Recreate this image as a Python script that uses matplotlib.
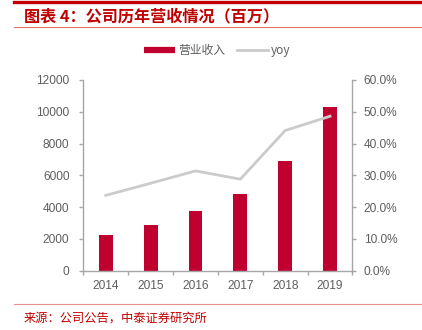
import matplotlib
matplotlib.use('Agg')
import matplotlib.pyplot as plt
from matplotlib.lines import Line2D
from matplotlib.ticker import FuncFormatter

plt.rcParams['font.family'] = ['Liberation Sans', 'Noto Sans CJK SC', 'DejaVu Sans']

years = ['2014', '2015', '2016', '2017', '2018', '2019']
revenue = [2230, 2860, 3750, 4820, 6920, 10280]
yoy = [0.237, 0.275, 0.314, 0.288, 0.441, 0.486]

bar_color = '#C0002F'
line_color = '#CBCBCB'
axis_color = '#A6A6A6'
text_color = '#5E5E5E'
red = '#C00000'

fig = plt.figure(figsize=(4.22, 3.30), dpi=100)
ax1 = fig.add_axes([0.1974, 0.1797, 0.6379, 0.5779])
ax2 = ax1.twinx()

x = range(len(years))
ax1.bar(x, revenue, width=0.31, color=bar_color, zorder=2)
ax2.plot(x, yoy, color=line_color, lw=2, solid_joinstyle='miter', zorder=3)

ax1.set_xlim(-0.5, len(years) - 0.5)
ax1.set_ylim(0, 12000)
ax1.set_yticks(range(0, 12001, 2000))
ax2.set_ylim(0, 0.6)
ax2.set_yticks([i / 10 for i in range(7)])
ax2.yaxis.set_major_formatter(FuncFormatter(lambda v, p: f'{v * 100:.1f}%'))

# boundary ticks between categories, labels centred under the bars
ax1.set_xticks([i - 0.5 for i in range(len(years) + 1)])
ax1.set_xticklabels([])
ax1.set_xticks(list(x), minor=True)
ax1.set_xticklabels(years, minor=True)
ax1.tick_params(axis='x', which='minor', length=0, pad=7, labelsize=8.6, labelcolor=text_color)
ax1.tick_params(axis='x', which='major', length=3, color=axis_color, width=1)
ax1.tick_params(axis='y', length=3, color=axis_color, width=1, pad=7,
                labelsize=8.6, labelcolor=text_color)
ax2.tick_params(axis='y', length=3, color=axis_color, width=1, pad=5,
                labelsize=8.6, labelcolor=text_color)

for ax in (ax1, ax2):
    ax.spines['top'].set_visible(False)
    for side in ('left', 'right', 'bottom'):
        ax.spines[side].set_color(axis_color)
        ax.spines[side].set_linewidth(1)
ax1.spines['right'].set_visible(False)
ax2.spines['left'].set_visible(False)
ax2.spines['bottom'].set_visible(False)

handles = [Line2D([], [], color=bar_color, lw=4.5, solid_capstyle='butt'),
           Line2D([], [], color=line_color, lw=2)]
fig.legend(handles, ['营业收入', 'yoy'], loc='center', bbox_to_anchor=(0.515, 0.848),
           ncol=2, frameon=False, handlelength=2.6, columnspacing=1.0, handletextpad=0.3,
           prop={'family': ['Noto Sans CJK SC', 'DejaVu Sans'], 'size': 8.5},
           labelcolor=text_color)

# header and footer rules
fig.add_artist(Line2D([14 / 422, 1], [1 - 1.5 / 330, 1 - 1.5 / 330], color=red, lw=2.4))
fig.add_artist(Line2D([14 / 422, 421 / 422], [1 - 27 / 330, 1 - 27 / 330], color='#E07070', lw=0.8))
fig.add_artist(Line2D([14 / 422, 421 / 422], [1 - 304.3 / 330, 1 - 304.3 / 330], color='#E89090', lw=0.8))

fig.text(24 / 422, 1 - 16 / 330, '图表 4：公司历年营收情况（百万）', color=red, fontsize=11.6,
         fontweight='bold', va='center', ha='left',
         family=['Noto Sans CJK SC', 'DejaVu Sans'])
fig.text(24 / 422, 1 - 318 / 330, '来源：公司公告，中泰证券研究所', color=red, fontsize=8.8,
         va='center', ha='left', family=['Noto Sans CJK SC', 'DejaVu Sans'])

fig.savefig('out.png', dpi=100)
